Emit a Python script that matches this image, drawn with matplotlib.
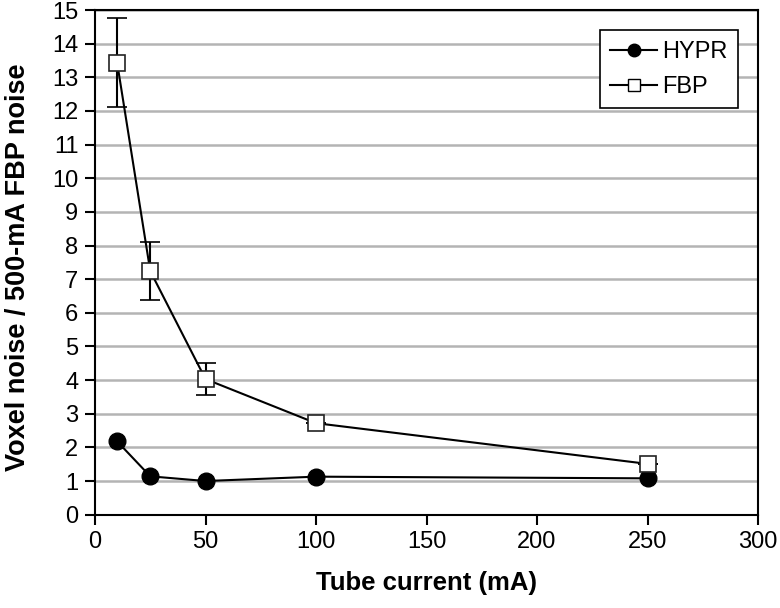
import matplotlib
matplotlib.use("Agg")
import matplotlib.pyplot as plt
from matplotlib.lines import Line2D

plt.rcParams['font.family'] = ['Liberation Sans', 'DejaVu Sans']

current = [10, 25, 50, 100, 250]
hypr = [2.18, 1.14, 1.00, 1.13, 1.08]
fbp = [13.44, 7.24, 4.03, 2.72, 1.51]
fbp_err = [1.32, 0.87, 0.48, 0.0, 0.0]

fig = plt.figure(figsize=(7.8, 6.08), dpi=100)
ax = fig.add_axes([0.1218, 0.1535, 0.850, 0.8300])

ax.set_xlim(0, 300)
ax.set_ylim(0, 15)
ax.set_xticks(range(0, 301, 50))
ax.set_yticks(range(0, 16))
ax.yaxis.grid(True, color='#b4b4b4', linewidth=1.8)
ax.set_axisbelow(True)

ax.plot(current, hypr, '-o', color='black', lw=1.5, ms=12,
        markerfacecolor='black', markeredgecolor='black', zorder=3)
ax.errorbar(current, fbp, yerr=fbp_err, fmt='-s', color='black', lw=1.5, ms=12,
            markerfacecolor='white', markeredgecolor='#222222', markeredgewidth=1.2,
            ecolor='black', elinewidth=1.5, capsize=7, capthick=1.5, zorder=4)

for s in ax.spines.values():
    s.set_linewidth(1.5)
    s.set_color('black')

ax.tick_params(axis='both', direction='out', length=7, width=1.5,
               labelsize=17, colors='black', pad=5)

ax.set_xlabel('Tube current (mA)', fontsize=18.5, fontweight='bold', va='top')
ax.xaxis.set_label_coords(0.5, -0.112)
ax.set_ylabel('Voxel noise / 500-mA FBP noise', fontsize=19.5, fontweight='bold')
ax.yaxis.set_label_coords(-0.097, 0.49)

handles = [
    Line2D([], [], color='black', lw=1.5, marker='o', ms=9,
           markerfacecolor='black', markeredgecolor='black'),
    Line2D([], [], color='black', lw=1.5, marker='s', ms=9,
           markerfacecolor='white', markeredgecolor='black', markeredgewidth=1.0),
]
leg = ax.legend(handles, ['HYPR', 'FBP'], loc='upper right',
                bbox_to_anchor=(0.970, 0.960),
                fontsize=17, frameon=True, fancybox=False, edgecolor='black',
                framealpha=1, borderpad=0.45, handlelength=2.0, handletextpad=0.2,
                labelspacing=0.55, borderaxespad=0)
leg.get_frame().set_linewidth(1.2)

fig.savefig('out.png', dpi=100)
